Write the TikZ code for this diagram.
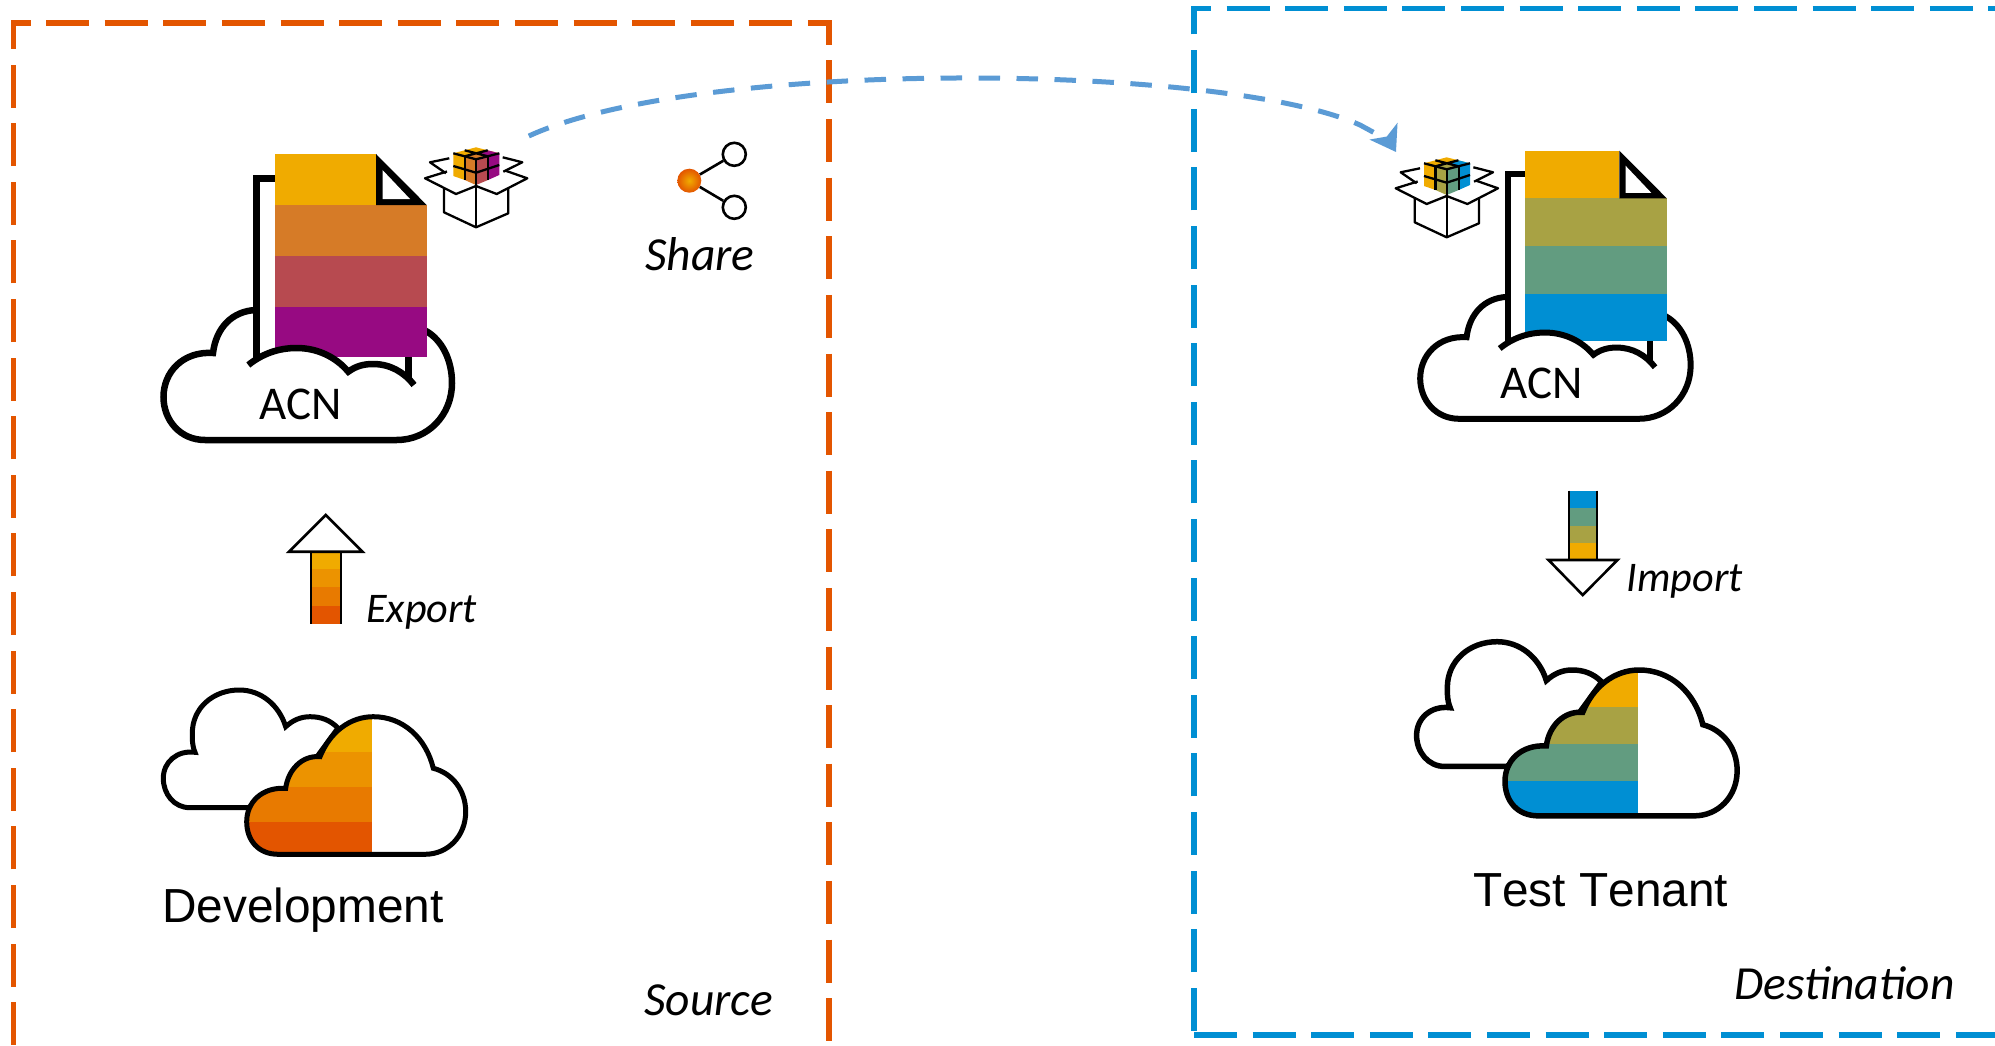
\documentclass[tikz,border=0pt]{standalone}
\usepackage{fontspec}
\setmainfont{Carlito}
\newfontfamily\arialfont[Kerning=Off]{Liberation Sans}
\usetikzlibrary{arrows.meta}
\definecolor{cgold}{HTML}{F0AB00}
\definecolor{corange}{HTML}{E35500}
\definecolor{cpurple}{HTML}{970A82}
\definecolor{cblue}{HTML}{008FD3}
\definecolor{cmidA}{HTML}{D67B27}
\definecolor{cmidB}{HTML}{B74A50}
\definecolor{cmidC}{HTML}{A8A244}
\definecolor{cmidD}{HTML}{629C80}
\definecolor{cgradA}{HTML}{EC9300}
\definecolor{cgradB}{HTML}{E87A00}
\definecolor{clink}{HTML}{5B9BD5}
\tikzset{
  frameorange/.style={draw=corange,line width=5.5pt,dash pattern=on 43pt off 15.6pt},
  frameblue/.style={draw=cblue,line width=5.5pt,dash pattern=on 43pt off 15.6pt},
  italiclabel/.style={inner sep=0pt,anchor=base west,font=\fontsize{47.5}{50}\selectfont\itshape},
  smalllabel/.style={inner sep=0pt,anchor=base west,font=\fontsize{42.2}{46}\selectfont\itshape},
  acnlabel/.style={inner sep=0pt,anchor=base west,font=\fontsize{47}{50}\selectfont},
  tenantlabel/.style={inner sep=0pt,anchor=base west,font=\arialfont\fontsize{47.8}{52}\selectfont},
  boxline/.style={draw=black,line width=2.3pt,line join=round},
  arrowline/.style={draw=black,line width=2.6pt},
  sharedot/.style={circle,draw=black,line width=2.6pt,fill=white,minimum size=23pt,inner sep=0pt},
  sharecore/.style={circle,inner color=cgold,outer color=corange,minimum size=24pt,inner sep=0pt},
  shareline/.style={draw=black,line width=2.6pt},
  linkline/.style={draw=clink,line width=5pt,dash pattern=on 21.5pt off 16.5pt}
}
% package box with cube: #1 front-left, #2 front-right, #3 right
\newcommand{\pkgcube}[3]{
  \fill[cgold] (453.3,153.3)--(476,147.3)--(499.3,153.3)--(476,159.3)--cycle;
  \fill[#1] (476,153.3)--(464.7,156.3)--(476,159.3)--(487.7,156.3)--cycle;
  \fill[#3] (476,153.3)--(487.7,150.3)--(499.3,153.3)--(487.7,156.3)--cycle;
  \fill[cgold] (453.3,153.3)--(464.7,156.3)--(464.7,180)--(453.3,176)--cycle;
  \fill[#1] (464.7,156.3)--(476,159.3)--(476,185)--(464.7,180)--cycle;
  \fill[#2] (476,159.3)--(488,156.3)--(488,180)--(476,185)--cycle;
  \fill[#3] (488,156.3)--(499.3,153.3)--(499.3,175)--(488,180)--cycle;
  \draw[boxline] (453.3,153.3)--(476,159.3)--(499.3,153.3);
  \draw[boxline] (464.7,150.3)--(487.7,156.3) (487.7,150.3)--(464.7,156.3);
  \draw[boxline] (464.7,156.3)--(464.7,180) (488,156.3)--(488,180) (476,159.3)--(476,186);
  \draw[boxline] (453.3,166)--(476,172.7)--(499.3,165);
  \draw[boxline] (449.3,158.3)--(430,162.3)--(446,173.3);
  \draw[boxline] (502.7,157.3)--(522.3,162.3)--(503.3,171.7);
  \fill[white] (444,190)--(476,186)--(508.3,190)--(508.3,213.3)--(476,227.3)--(444,212.3)--cycle;
  \draw[boxline] (444,188)--(444,212.3)--(476,227.3)--(508.3,213.3)--(508.3,188);
  \draw[boxline] (476,186)--(476,227.3);
  \draw[boxline] (447,171.5)--(425,178.3)--(456,194)--(476,186)--(496.7,194)--(527.3,178.3)--(505.5,170.7);
}
% ACN cloud and file: #1 line width, #2 #3 stripes, #4 last stripe
\newcommand{\acnfile}[4]{
  \draw[black,fill=white,line width=#1] (205,440) .. controls (180,440) and (163.5,420) .. (163.5,397)
    .. controls (163.5,372) and (183,351) .. (213,353)
    .. controls (216,328) and (232,311) .. (256,310) -- (426,331)
    .. controls (442,340) and (452,360) .. (452,383)
    .. controls (452,415) and (428,440) .. (396.7,440) -- cycle;
  \fill[white] (256.7,178.7) rectangle (408.7,385);
  \draw[black,line width=#1] (276,178.7)--(256.7,178.7)--(256.7,368);
  \draw[black,line width=#1] (408.7,350)--(408.7,384);
  \fill[cgold] (275,154) rectangle (376,205);
  \fill[#2] (275,205) rectangle (426.7,256);
  \fill[#3] (275,256) rectangle (426.7,307);
  \fill[#4] (275,307) rectangle (426.7,357);
  \fill[black] (376,154)--(426.7,205)--(376,205)--cycle;
  \fill[white] (382.5,170)--(410,199)--(382.5,199)--cycle;
  \fill[white] (248.3,365) .. controls (262,354) and (278,348) .. (296.7,348)
    .. controls (316,348) and (335,356) .. (348.3,371.7)
    .. controls (356,366) and (364,364) .. (373,364)
    .. controls (390,364) and (404,372) .. (414,385) -- (414,428) -- (248.3,428) -- cycle;
  \draw[black,line width=#1] (248.3,365) .. controls (262,354) and (278,348) .. (296.7,348)
    .. controls (316,348) and (335,356) .. (348.3,371.7)
    .. controls (356,366) and (364,364) .. (373,364)
    .. controls (390,364) and (404,372) .. (414,385);
}
\newcommand{\frontcloudpath}{(278.3,854.3) .. controls (258,854.3) and (246.7,840) .. (246.7,821.7)
    .. controls (246.7,802) and (262,787) .. (285.7,788.3)
    .. controls (288,770) and (302,755) .. (320,756.7)
    .. controls (330,732) and (350,716.7) .. (373.3,716.7)
    .. controls (403,716.7) and (426,738) .. (433.3,768.3)
    .. controls (452,773) and (465.7,790) .. (465.7,811.7)
    .. controls (465.7,836) and (448,854.3) .. (425,854.3) -- cycle}
% cloud pair: #1 line width, #2..#5 stripes top to bottom
\newcommand{\cloudpair}[5]{
  \draw[black,fill=white,line width=#1] (248,807.7) -- (190,807.7)
    .. controls (174,807.7) and (163.3,794) .. (163.3,778.3)
    .. controls (163.3,762) and (177,750) .. (195,752.3)
    .. controls (192,745) and (192.3,739) .. (192.3,733.3)
    .. controls (192.3,708) and (213,690) .. (239.3,690)
    .. controls (261,690) and (279,705) .. (285.7,726.7)
    .. controls (293,720) and (301,716.7) .. (310,716.7)
    .. controls (321,716.7) and (330,720) .. (338,728) -- (300,780) -- cycle;
  \fill[white] \frontcloudpath;
  \begin{scope}
    \clip \frontcloudpath;
    \fill[#2] (240,710) rectangle (371.7,751.7);
    \fill[#3] (240,751.7) rectangle (371.7,786.7);
    \fill[#4] (240,786.7) rectangle (371.7,821.7);
    \fill[#5] (240,821.7) rectangle (371.7,860);
  \end{scope}
  \draw[black,line width=#1] \frontcloudpath;
}
\begin{document}
\begin{tikzpicture}[x=1pt,y=-1pt]
\useasboundingbox (0,0) rectangle (1995,1046);
\clip (0,0) rectangle (1995,1046);
% frames
\draw[frameorange,dash phase=43.8pt] (13.5,1060)--(13.5,23)--(829,23)--(829,1060);
\draw[frameblue,dash phase=54.3pt] (1194,1035)--(1194,8.5)--(2100,8.5);
\draw[frameblue] (1194,1035)--(2100,1035);
% left ACN
\acnfile{6.5pt}{cmidA}{cmidB}{cpurple}
\node[acnlabel] (acnleft) at (259,419) {ACN};
\pkgcube{cmidA}{cmidB}{cpurple}
% right ACN
\begin{scope}[shift={(1266.9,6.3)},scale=0.9375]
\acnfile{6pt}{cmidC}{cmidD}{cblue}
\end{scope}
\node[acnlabel] (acnright) at (1500,398) {ACN};
\begin{scope}[shift={(970.7,10)}]
\pkgcube{cmidC}{cmidD}{cblue}
\end{scope}
% share icon
\node[sharecore] (sharecenter) at (689.3,180.7) {};
\node[sharedot] (shareup) at (734.3,154.3) {};
\node[sharedot] (sharedown) at (734.3,207.3) {};
\draw[shareline] (sharecenter) -- (shareup);
\draw[shareline] (sharecenter) -- (sharedown);
\node[italiclabel] (sharelabel) at (645,270) {Share};
% export arrow
\fill[cgold] (311,551.7) rectangle (341,569);
\fill[cgradA] (311,569) rectangle (341,587.3);
\fill[cgradB] (311,587.3) rectangle (341,606);
\fill[corange] (311,606) rectangle (341,624.3);
\draw[arrowline] (311,551.7)--(311,624.3) (341,551.7)--(341,624.3);
\draw[arrowline,fill=white] (325.7,515)--(362.5,551.7)--(289,551.7)--cycle;
\node[smalllabel] (exportlabel) at (366,622.7) {Export};
% import arrow
\fill[cblue] (1569,490.7) rectangle (1597,508.3);
\fill[cmidD] (1569,508.3) rectangle (1597,525.7);
\fill[cmidC] (1569,525.7) rectangle (1597,543.3);
\fill[cgold] (1569,543.3) rectangle (1597,560);
\draw[arrowline] (1569,490.7)--(1569,560) (1597,490.7)--(1597,560);
\draw[arrowline,fill=white] (1548.5,560)--(1617.5,560)--(1582.7,595)--cycle;
\node[smalllabel] (importlabel) at (1626.5,591.7) {Import};
% cloud pairs
\cloudpair{5pt}{cgold}{cgradA}{cgradB}{corange}
\begin{scope}[shift={(1243.5,-89.7)},scale=1.06]
\cloudpair{5.5pt}{cgold}{cmidC}{cmidD}{cblue}
\end{scope}
\node[tenantlabel] (devlabel) at (162,922.7) {Development};
\node[tenantlabel] (testlabel) at (1473,906) {Test Tenant};
\node[italiclabel] (sourcelabel) at (644,1015) {Source};
\node[italiclabel] (destlabel) at (1734,999) {Destination};
% link
\coordinate (pkgsource) at (528.8,136);
\coordinate (pkgdest) at (1396,152);
\draw[linkline,-{Stealth[length=24pt,width=32pt,inset=6pt]}] (pkgsource) .. controls (699,58) and (1222,63) .. (1360,125) .. controls (1375,133) and (1390,142) .. (pkgdest);
\end{tikzpicture}
\end{document}
